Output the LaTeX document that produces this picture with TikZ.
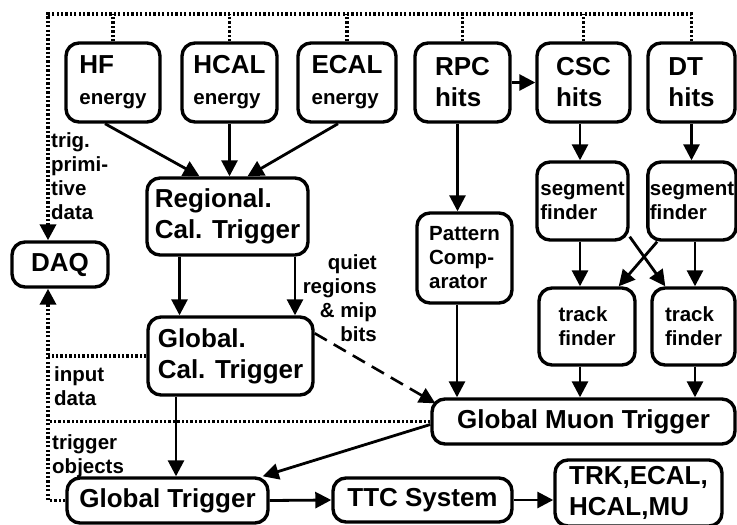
\documentclass[tikz,border=0pt]{standalone}
\usepackage{fontspec}
\setmainfont{Liberation Sans}
\usetikzlibrary{arrows.meta,calc}
\newcommand{\bigtxt}{\fontsize{26}{31}\selectfont\bfseries}
\newcommand{\smtxt}{\fontsize{20.5}{24}\selectfont\bfseries}
\begin{document}
\begin{tikzpicture}[x=1pt,y=-1pt,
    >={Triangle[length=16pt,width=16pt]},
    box/.style={draw=black,line width=3.4pt,rounded corners=13pt,align=left,inner sep=2pt},
    bigbox/.style={box,font=\bigtxt},
    smbox/.style={box,font=\smtxt},
    arr/.style={->,line width=2.8pt},
    dotline/.style={line width=3.6pt,dash pattern=on 2.3pt off 2.1pt},
    dashline/.style={->,line width=2.6pt,dash pattern=on 14pt off 8pt},
    lab/.style={font=\smtxt,inner sep=0pt,align=left}]
\useasboundingbox (0,0) rectangle (737,525);
% ===== calorimeter and muon detectors =====
\node[bigbox,minimum width=94pt,minimum height=79pt] (hf)   at (113,82.5)   {HF\\\smtxt energy};
\node[bigbox,minimum width=95pt,minimum height=79pt] (hcal) at (229.5,82.5) {HCAL\\\smtxt energy};
\node[bigbox,minimum width=98pt,minimum height=79pt] (ecal) at (347,82.5)   {ECAL\\\smtxt energy};
\node[bigbox,minimum width=95pt,minimum height=79pt] (rpc)  at (462.5,82.5) {RPC\\hits};
\node[bigbox,minimum width=93pt,minimum height=79pt] (csc)  at (583.5,82.5) {CSC\\hits};
\node[bigbox,minimum width=87pt,minimum height=79pt] (dt)   at (691.5,82.5) {DT\\hits};
% ===== calorimeter trigger =====
\node[bigbox,minimum width=161pt,minimum height=77pt] (reg) at (227.5,216.5) {Regional.\\Cal. Trigger};
\node[bigbox,minimum width=165pt,minimum height=78pt] (gct) at (230.5,356)   {Global.\\Cal. Trigger};
\node[bigbox,minimum width=96pt,minimum height=45pt]  (daq) at (60,264.5)    {DAQ};
% ===== muon trigger =====
\node[smbox,minimum width=95pt,minimum height=90pt] (pat)  at (464.5,258)   {Pattern\\Comp-\\arator};
\node[smbox,minimum width=91pt,minimum height=78pt] (segc) at (582.5,201)   {segment\\finder};
\node[smbox,minimum width=86pt,minimum height=78pt] (segd) at (692,201)     {segment\\finder};
\node[smbox,minimum width=96pt,minimum height=77pt] (trkc) at (587,326.5)   {track\\finder};
\node[smbox,minimum width=83pt,minimum height=77pt] (trkd) at (693.5,326.5) {track\\finder};
\node[bigbox,minimum width=303pt,minimum height=45pt] (gmt) at (583.5,421.5) {Global Muon Trigger};
% ===== global trigger and outputs =====
\node[bigbox,minimum width=201pt,minimum height=45pt] (gt)  at (167.5,500.5) {Global Trigger};
\node[bigbox,minimum width=179pt,minimum height=44pt] (ttc) at (422.5,500)   {TTC System};
\node[bigbox,minimum width=167pt,minimum height=66pt] (trk) at (638.5,493)   {TRK,ECAL,\\HCAL,MU};
% ===== readout paths to DAQ =====
\coordinate (tl) at (48,14);
\draw[dotline,->] (dt.north) |- (tl) -- ([xshift=-12pt]daq.north);
\foreach \n in {hf,hcal,ecal,rpc,csc}
  \draw[dotline] (\n.north) -- (\n.north |- tl);
\draw[dotline,->] (gt.west) -| ([xshift=-12pt]daq.south);
\draw[dotline] (gct.west) -- (gct.west -| tl);
\draw[dotline] (gmt.west) -- (gmt.west -| tl);
\node[lab,anchor=north west] (trig) at (51,132) {trig.\\primi-\\tive\\data};
\node[lab,anchor=north west] (inp)  at (54,366) {input\\data};
\node[lab,anchor=north west] (tob)  at (52,434) {trigger\\objects};
% ===== trigger data flow =====
\draw[arr] ([xshift=-8pt]hf.south) -- ([xshift=-28pt]reg.north);
\draw[arr] (hcal.south) -- (hcal.south |- reg.north);
\draw[arr] ([xshift=-9pt]ecal.south) -- ([xshift=20pt]reg.north);
\draw[arr] ([xshift=-48pt]reg.south) -- ([xshift=-48pt]reg.south |- gct.north);
\draw[arr] ([xshift=67.5pt]reg.south) -- ([xshift=67.5pt]reg.south |- gct.north);
\draw[dashline] ([yshift=-18pt]gct.north east) -- ([xshift=5pt,yshift=-6pt]gmt.north west);
\node[lab,anchor=north east,align=right] (quiet) at (377,254) {quiet\\regions\\\& mip\\bits};
\draw[arr] ([xshift=-54.5pt]gct.south) -- ([xshift=-54.5pt]gct.south |- gt.north);
\draw[arr] ([yshift=-3pt]gmt.west) -- ([xshift=-7pt]gt.north east);
\draw[arr] (gt.east) -- (ttc.west);
\draw[arr] (ttc.east) -- (ttc.east -| trk.west);
\draw[arr] (rpc.east) -- (csc.west);
\draw[arr] ([xshift=-5pt]rpc.south) -- ([xshift=-5pt]rpc.south |- pat.north);
\draw[arr] ([xshift=-7.5pt]pat.south) -- ([xshift=-7.5pt]pat.south |- gmt.north);
\draw[arr] ([xshift=-3.5pt]csc.south) -- ([xshift=-3.5pt]csc.south |- segc.north);
\draw[arr] (dt.south) -- (dt.south |- segd.north);
\draw[arr] ([xshift=-2.5pt]segc.south) -- ([xshift=-2.5pt]segc.south |- trkc.north);
\draw[arr] ([xshift=3pt]segd.south) -- ([xshift=3pt]segd.south |- trkd.north);
\draw[arr] ([yshift=5pt]segc.south east) -- ([xshift=15pt]trkd.north west);
\draw[arr] ([xshift=11pt]segd.south west) -- ([xshift=-18pt]trkc.north east);
\draw[arr] ([xshift=-7pt]trkc.south) -- ([xshift=-7pt]trkc.south |- gmt.north);
\draw[arr] ([xshift=1.5pt]trkd.south) -- ([xshift=1.5pt]trkd.south |- gmt.north);
\end{tikzpicture}
\end{document}
